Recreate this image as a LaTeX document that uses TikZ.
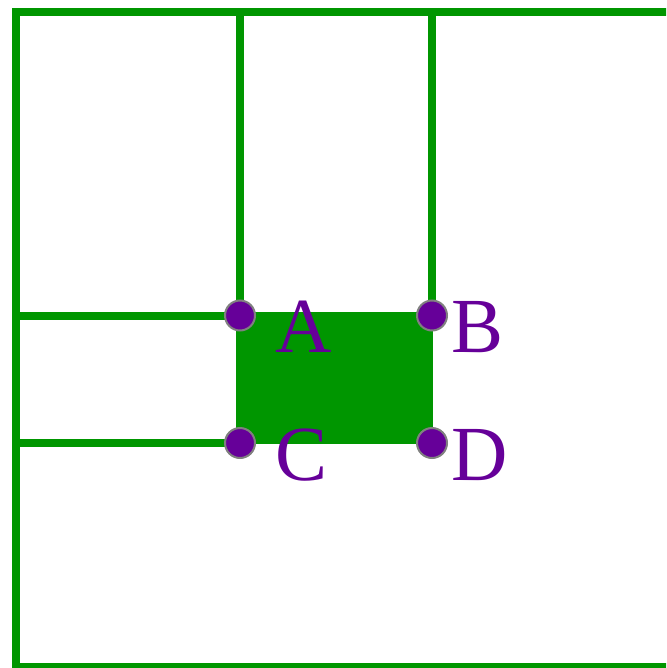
\documentclass[tikz,border=0pt]{standalone}
\usepackage{fontspec}
\setmainfont{Liberation Serif}
\usetikzlibrary{calc,positioning}
\definecolor{grn}{RGB}{0,150,0}
\definecolor{prp}{RGB}{102,0,153}

\begin{document}
\begin{tikzpicture}[x=1pt, y=-1pt,
  wall/.style={draw=grn, line width=8pt},
  dot/.style={circle, fill=prp, draw=gray, line width=2pt, minimum size=30pt, inner sep=0pt},
  lbl/.style={text=prp, font=\fontsize{78}{78}\selectfont, anchor=base west, inner sep=0pt}]
\useasboundingbox (0,0) rectangle (666,668);
\clip (0,0) rectangle (666,668);
\coordinate (A) at (240,315.5);
\coordinate (B) at (432,315.5);
\coordinate (C) at (240,443);
\coordinate (D) at (432,443);
\coordinate (TL) at (16,12);
\coordinate (TR) at (690,12);
\coordinate (BL) at (16,667);
\coordinate (BR) at (690,667);
\coordinate (Atop) at (A |- TL);
\coordinate (Btop) at (B |- TL);
\coordinate (Aleft) at (A -| TL);
\coordinate (Cleft) at (C -| TL);
\fill[grn] ($(A)+(-4,-4)$) rectangle ($(D)+(1,1)$);
\draw[wall] (TR)--(TL)--(BL)--(BR);
\draw[wall] (Atop)--(A)--(Aleft);
\draw[wall] (Btop)--(B);
\draw[wall] (C)--(Cleft);
\node[dot] (dA) at (A) {};
\node[dot] (dB) at (B) {};
\node[dot] (dC) at (C) {};
\node[dot] (dD) at (D) {};
\node[lbl] (lA) at ($(A)+(35,37)$) {A};
\node[lbl] (lB) at ($(B)+(19,37)$) {B};
\node[lbl] (lC) at ($(C)+(35,37)$) {C};
\node[lbl] (lD) at ($(D)+(19,37)$) {D};
\end{tikzpicture}
\end{document}
